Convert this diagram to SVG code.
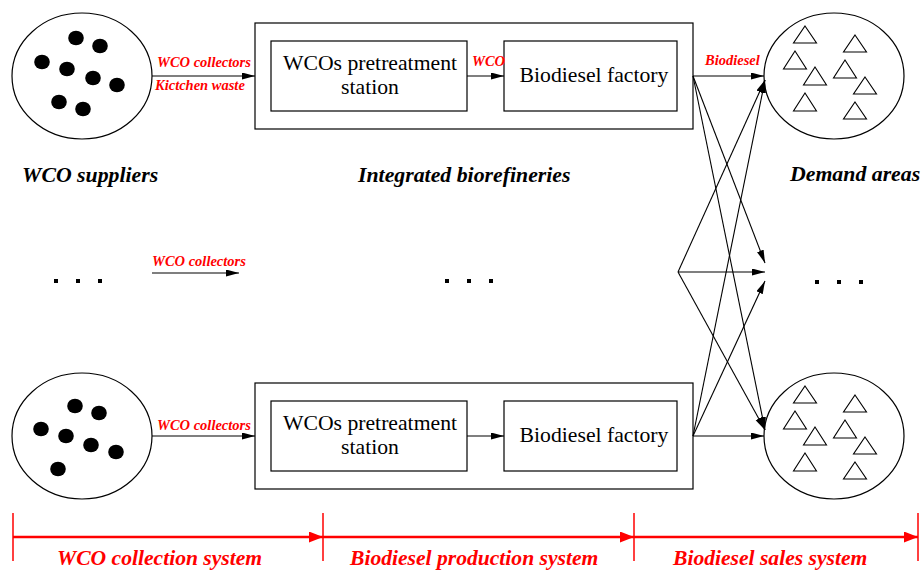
<svg xmlns="http://www.w3.org/2000/svg" width="922" height="570" viewBox="0 0 922 570">
<style>
.sh{fill:#fff;stroke:#000;stroke-width:1.2}
.dot{fill:#000}
.tri{fill:#fff;stroke:#000;stroke-width:1.1}
.ln{fill:none;stroke:#000;stroke-width:1.1}
.ax{fill:none;stroke:#f00;stroke-width:2.5}
.tk{fill:none;stroke:#f00;stroke-width:1.5}
.t{font-family:"Liberation Serif","Times New Roman",serif;font-size:21.7px;fill:#000}
.h{font-family:"Liberation Serif","Times New Roman",serif;font-size:21.8px;font-weight:bold;font-style:italic;fill:#000}
.r{font-family:"Liberation Serif","Times New Roman",serif;font-size:14.5px;font-weight:bold;font-style:italic;fill:#f00}
.rb{font-family:"Liberation Serif","Times New Roman",serif;font-size:21.6px;font-weight:bold;font-style:italic;fill:#f00}
</style>
<defs>
<marker id="ah" markerUnits="userSpaceOnUse" markerWidth="14" markerHeight="8" refX="13" refY="3.5" orient="auto"><path d="M0,0 L13,3.5 L0,7 z" fill="#000"/></marker>
<marker id="rh" markerUnits="userSpaceOnUse" markerWidth="15" markerHeight="12" refX="14" refY="5.5" orient="auto"><path d="M0,0 L14,5.5 L0,11 z" fill="#f00"/></marker>
<g id="dots1"><ellipse class="dot" cx="76" cy="38" rx="7.8" ry="7.3"/><ellipse class="dot" cx="100" cy="46" rx="7.8" ry="7.3"/><ellipse class="dot" cx="42" cy="62" rx="7.8" ry="7.3"/><ellipse class="dot" cx="67" cy="69" rx="7.8" ry="7.3"/><ellipse class="dot" cx="93" cy="78" rx="7.8" ry="7.3"/><ellipse class="dot" cx="117" cy="85" rx="7.8" ry="7.3"/><ellipse class="dot" cx="59" cy="102" rx="7.8" ry="7.3"/><ellipse class="dot" cx="83" cy="109" rx="7.8" ry="7.3"/></g>
<g id="tris"><path class="tri" d="M805,26 L816.5,43 L793.5,43 Z"/><path class="tri" d="M855,35 L866.5,52 L843.5,52 Z"/><path class="tri" d="M795,51 L806.5,69 L783.5,69 Z"/><path class="tri" d="M845,60 L856.5,78 L833.5,78 Z"/><path class="tri" d="M815,67 L826.5,85 L803.5,85 Z"/><path class="tri" d="M865,77 L876.5,94 L853.5,94 Z"/><path class="tri" d="M805,93 L816.5,111 L793.5,111 Z"/><path class="tri" d="M855,102 L866.5,119 L843.5,119 Z"/></g>
</defs>

<g id="supplier-top">
<ellipse class="sh" cx="82" cy="76" rx="70" ry="63"/>
<use href="#dots1"/>
</g>
<g id="supplier-bottom">
<ellipse class="sh" cx="82" cy="436" rx="70" ry="63"/>
<ellipse class="dot" cx="75" cy="406" rx="7.8" ry="7.3"/><ellipse class="dot" cx="99" cy="413" rx="7.8" ry="7.3"/><ellipse class="dot" cx="41" cy="429" rx="7.8" ry="7.3"/><ellipse class="dot" cx="66" cy="436" rx="7.8" ry="7.3"/><ellipse class="dot" cx="91" cy="445" rx="7.8" ry="7.3"/><ellipse class="dot" cx="116" cy="452" rx="7.8" ry="7.3"/><ellipse class="dot" cx="58" cy="469" rx="7.8" ry="7.3"/>
</g>

<g id="refinery-top">
<rect class="sh" x="255" y="23" width="438" height="106"/>
<rect class="sh" x="271" y="41" width="196" height="70"/>
<text class="t" x="370" y="70" text-anchor="middle">WCOs pretreatment</text>
<text class="t" x="370" y="94" text-anchor="middle">station</text>
<rect class="sh" x="504" y="41" width="173" height="70"/>
<text class="t" x="594" y="82" text-anchor="middle">Biodiesel factory</text>
</g>
<g id="refinery-bottom">
<rect class="sh" x="255" y="383" width="438" height="106"/>
<rect class="sh" x="271" y="401" width="196" height="70"/>
<text class="t" x="370" y="430" text-anchor="middle">WCOs pretreatment</text>
<text class="t" x="370" y="454" text-anchor="middle">station</text>
<rect class="sh" x="504" y="401" width="173" height="70"/>
<text class="t" x="594" y="442" text-anchor="middle">Biodiesel factory</text>
</g>

<g id="demand-top">
<ellipse class="sh" cx="834" cy="76" rx="70" ry="63"/>
<use href="#tris"/>
</g>
<g id="demand-bottom">
<ellipse class="sh" cx="834" cy="436" rx="70" ry="63"/>
<use href="#tris" transform="translate(0,360)"/>
</g>

<g id="ellipses-dots">
<rect x="54" y="279" width="4" height="4"/><rect x="76" y="279" width="4" height="4"/><rect x="98" y="279" width="4" height="4"/>
<rect x="445" y="279" width="4" height="4"/><rect x="467" y="279" width="4" height="4"/><rect x="489" y="279" width="4" height="4"/>
<rect x="815" y="280" width="4" height="4"/><rect x="837" y="280" width="4" height="4"/><rect x="859" y="280" width="4" height="4"/>
</g>

<g id="connectors">
<line class="ln" x1="152" y1="76" x2="255" y2="76" marker-end="url(#ah)"/>
<line class="ln" x1="152" y1="436" x2="255" y2="436" marker-end="url(#ah)"/>
<line class="ln" x1="152" y1="273" x2="239" y2="273" marker-end="url(#ah)"/>
<line class="ln" x1="467" y1="76" x2="504" y2="76" marker-end="url(#ah)"/>
<line class="ln" x1="467" y1="436" x2="504" y2="436" marker-end="url(#ah)"/>
<line class="ln" x1="693" y1="76" x2="764" y2="76" marker-end="url(#ah)"/>
<line class="ln" x1="693" y1="76" x2="765" y2="263" marker-end="url(#ah)"/>
<line class="ln" x1="693" y1="76" x2="765" y2="430" marker-end="url(#ah)"/>
<line class="ln" x1="678" y1="272" x2="765" y2="80" marker-end="url(#ah)"/>
<line class="ln" x1="678" y1="272" x2="765" y2="272" marker-end="url(#ah)"/>
<line class="ln" x1="678" y1="272" x2="765" y2="430" marker-end="url(#ah)"/>
<line class="ln" x1="693" y1="436" x2="765" y2="80" marker-end="url(#ah)"/>
<line class="ln" x1="693" y1="436" x2="765" y2="281" marker-end="url(#ah)"/>
<line class="ln" x1="693" y1="436" x2="764" y2="436" marker-end="url(#ah)"/>
</g>

<g id="labels">
<text class="r" x="157" y="67">WCO collectors</text>
<text class="r" x="155" y="90">Kictchen waste</text>
<text class="r" x="152" y="266">WCO collectors</text>
<text class="r" x="157" y="430">WCO collectors</text>
<text class="r" x="472" y="66">WCO</text>
<text class="r" x="705" y="65">Biodiesel</text>
<text class="h" x="22" y="182">WCO suppliers</text>
<text class="h" x="358" y="182">Integrated biorefineries</text>
<text class="h" x="790" y="181">Demand areas</text>
</g>

<g id="axis">
<line class="tk" x1="13" y1="513" x2="13" y2="561"/>
<line class="tk" x1="323" y1="513" x2="323" y2="561"/>
<line class="tk" x1="634" y1="513" x2="634" y2="561"/>
<line class="tk" x1="918" y1="513" x2="918" y2="561"/>
<line class="ax" x1="13" y1="537" x2="323" y2="537" marker-end="url(#rh)"/>
<line class="ax" x1="323" y1="537" x2="634" y2="537" marker-end="url(#rh)"/>
<line class="ax" x1="634" y1="537" x2="918" y2="537" marker-end="url(#rh)"/>
<text class="rb" x="57" y="565">WCO collection system</text>
<text class="rb" x="350" y="565">Biodiesel production system</text>
<text class="rb" x="673" y="565">Biodiesel sales system</text>
</g>
</svg>
